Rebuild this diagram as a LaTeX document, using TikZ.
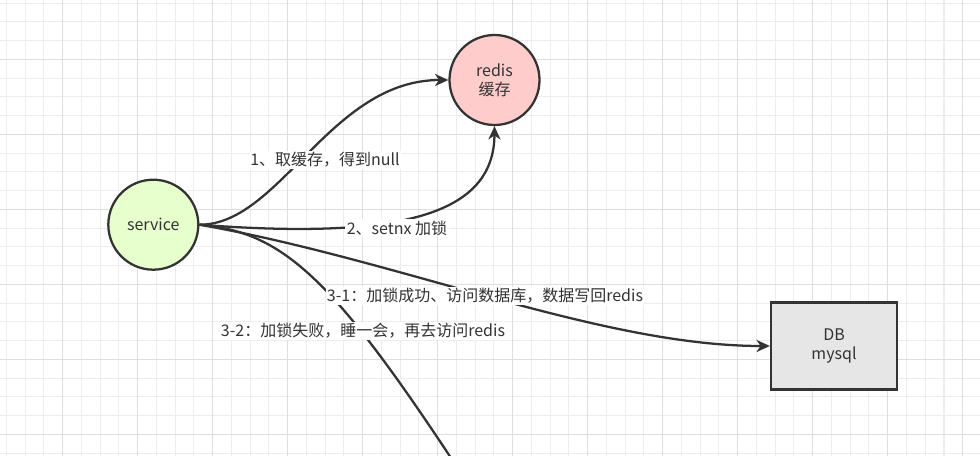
\documentclass[tikz,border=0pt]{standalone}
\usepackage{fontspec}
\setmainfont{Noto Sans CJK SC}
\usetikzlibrary{arrows.meta}

\begin{document}
\begin{tikzpicture}[
    x=0.75pt,
    y=-0.75pt,
    every node/.style={
        font=\fontsize{12}{14.5}\selectfont,
        text=txtgray
      },
    roundbox/.style={
        circle,
        draw=linegray,
        line width=1.7pt,
        minimum size=67.5pt,
        inner sep=0pt,
        align=center
      },
    dbbox/.style={
        rectangle,
        draw=linegray,
        fill=dbfill,
        line width=1.7pt,
        minimum width=94.5pt,
        minimum height=65.25pt,
        align=center
      },
    link/.style={
        draw=linegray,
        line width=1.7pt,
        -{Stealth[length=10pt,width=9pt,inset=3pt]}
      },
    linklabel/.style={
        fill=white,
        inner sep=1pt
      }]
    % Define colors
    \definecolor{linegray}{HTML}{333333}
    \definecolor{txtgray}{HTML}{333333}
    \definecolor{servicefill}{HTML}{E6FFCC} % light green
    \definecolor{redisfill}{HTML}{FFCCCC}   % pink
    \definecolor{dbfill}{HTML}{E6E6E6}      % gray
    \definecolor{gridminor}{HTML}{EDEDED}
    \definecolor{gridmajor}{HTML}{DEDEDE}

    % Draw background
    \useasboundingbox (0,0) rectangle (980,456);
    \clip (0,0) rectangle (980,456);
    \fill[white] (0,0) rectangle (980,456);
    \foreach \i in {0,...,52}
      \draw[gridminor, line width=0.8pt] ({6.45+18.75*\i},0) -- ++(0,456);
    \foreach \i in {0,...,24}
      \draw[gridminor, line width=0.8pt] (0,{3.05+18.75*\i}) -- ++(980,0);
    \foreach \i in {0,...,12}
      \draw[gridmajor, line width=0.8pt] ({62.7+75*\i},0) -- ++(0,456);
    \foreach \i in {0,...,5}
      \draw[gridmajor, line width=0.8pt] (0,{59.3+75*\i}) -- ++(980,0);

    % Draw nodes
    \node[roundbox, fill=servicefill] (service) at (153.3,224.7) {service};
    \node[roundbox, fill=redisfill] (redis) at (494.5,80) {redis\\缓存};
    \node[dbbox] (db) at (834,346) {DB\\mysql};
    \coordinate (away) at (472,490);

    % Draw connectors
    \draw[link] (service.east) .. controls (280,225) and (330,80) .. (redis.west);
    \draw[link] (service.east) .. controls (400,240) and (494,215) .. (redis.south);
    \draw[link] (service.east) .. controls (400,260) and (600,346) .. (db.west);
    \draw[link] (service.east) .. controls (285,232) and (335,280) .. (away);

    % Label connectors
    \node[linklabel] (gettext) at (325,160) {1、取缓存，得到null};
    \node[linklabel] (locktext) at (397,228) {2、setnx 加锁};
    \node[linklabel] (oktext) at (485,296) {3-1：加锁成功、访问数据库，数据写回redis};
    \node[linklabel] (failtext) at (363,331) {3-2：加锁失败，睡一会，再去访问redis};
\end{tikzpicture}
\end{document}
